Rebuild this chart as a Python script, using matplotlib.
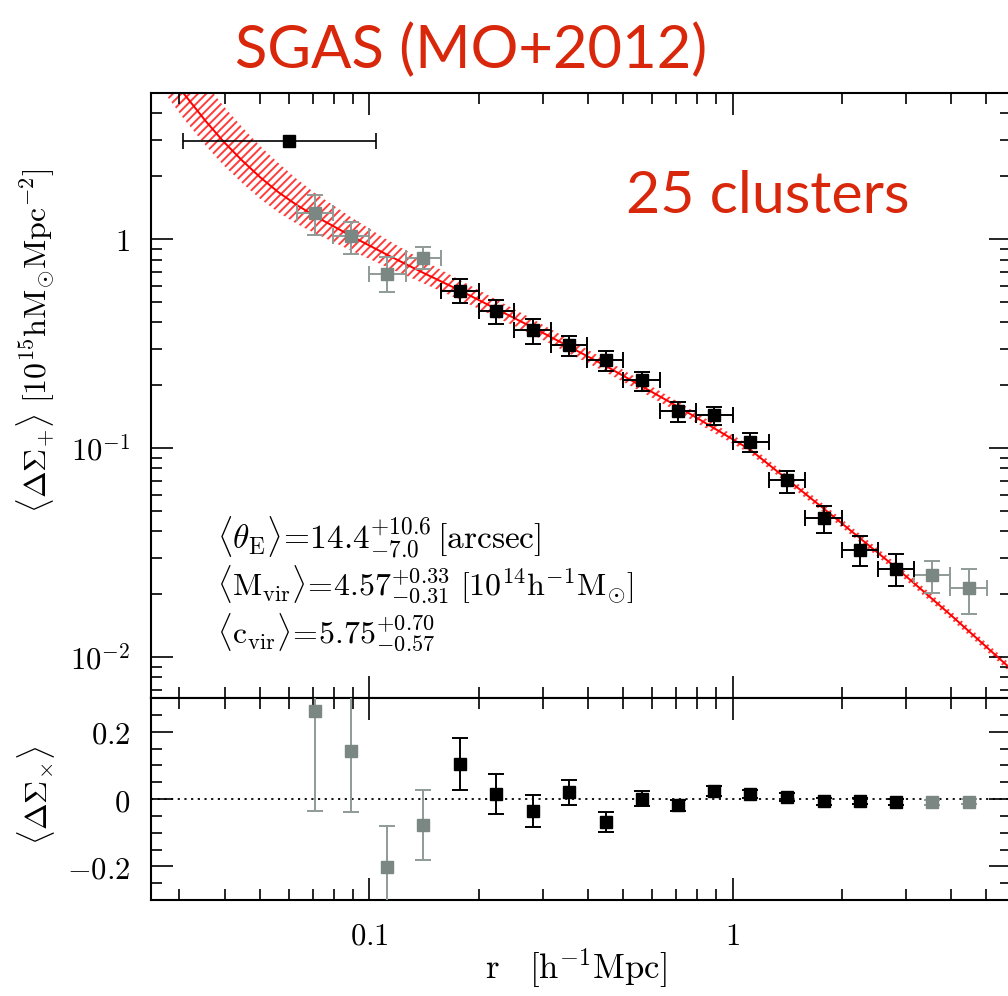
import numpy as np
import matplotlib
matplotlib.use("Agg")
import matplotlib.pyplot as plt
from matplotlib.ticker import FixedLocator, LogLocator, MultipleLocator, NullFormatter

# radial bins [h^-1 Mpc]
r_edges = [0.0631, 0.0794, 0.1, 0.126, 0.158, 0.2, 0.251, 0.316, 0.398, 0.501,
           0.631, 0.794, 1.0, 1.26, 1.58, 2.0, 2.51, 3.16, 3.98, 5.01]
r_mid = [0.0707, 0.089, 0.112, 0.141, 0.178, 0.224, 0.282, 0.355, 0.447, 0.562,
         0.708, 0.891, 1.12, 1.41, 1.78, 2.24, 2.82, 3.55, 4.47]
in_fit = [False, False, False, False, True, True, True, True, True, True,
          True, True, True, True, True, True, True, False, False]

# tangential shear profile
dsig_t = [1.34, 1.037, 0.680, 0.811, 0.568, 0.455, 0.368, 0.312, 0.265, 0.211,
          0.150, 0.144, 0.107, 0.0705, 0.0462, 0.0326, 0.0264, 0.0248, 0.0214]
dsig_t_hi = [1.63, 1.21, 0.823, 0.916, 0.646, 0.512, 0.414, 0.344, 0.293, 0.2325,
             0.167, 0.158, 0.118, 0.078, 0.053, 0.0382, 0.0311, 0.0289, 0.0264]
dsig_t_lo = [1.05, 0.85, 0.561, 0.719, 0.497, 0.392, 0.316, 0.276, 0.235, 0.1874,
             0.133, 0.129, 0.0963, 0.0613, 0.0392, 0.0274, 0.0218, 0.0202, 0.0161]

# cross shear profile
dsig_x = [0.26, 0.143, -0.2006, -0.077, 0.1037, 0.0148, -0.0347, 0.0196, -0.068, 0.001,
          -0.019, 0.0237, 0.0148, 0.006, -0.007, -0.005, -0.009, -0.01, -0.008]
dsig_x_err = [0.297, 0.182, 0.12, 0.105, 0.077, 0.06, 0.048, 0.036, 0.029, 0.023,
              0.017, 0.015, 0.013, 0.011, 0.010, 0.009, 0.008, 0.008, 0.007]

# Einstein-radius constraint
ein_r, ein_r_lo, ein_r_hi, ein_y = 0.0601, 0.0307, 0.1043, 2.94

# best-fit NFW model and its band
r_model = [0.0265, 0.0282, 0.0308, 0.0355, 0.0398, 0.0447, 0.0501, 0.0562, 0.0631,
           0.0708, 0.0891, 0.112, 0.141, 0.178, 0.282, 0.447, 0.708, 1.12, 1.78,
           2.82, 3.98, 5.89]
model = [7.2, 6.17, 5.00, 3.67, 2.92, 2.38, 1.98, 1.68, 1.46,
         1.294, 1.037, 0.843, 0.690, 0.568, 0.378, 0.248, 0.158, 0.0982, 0.0515,
         0.0268, 0.01596, 0.00867]
model_hi = [11.4, 9.66, 7.74, 5.55, 4.32, 3.44, 2.79, 2.32, 1.945,
            1.667, 1.276, 0.995, 0.792, 0.637, 0.415, 0.2655, 0.167, 0.1028, 0.0540,
            0.0281, 0.0167, 0.00908]
model_lo = [5.40, 4.66, 3.79, 2.80, 2.25, 1.855, 1.56, 1.344, 1.186,
            1.069, 0.883, 0.735, 0.615, 0.512, 0.349, 0.2312, 0.149, 0.0938, 0.0492,
            0.0256, 0.01524, 0.00828]

red = "#d8270b"
gray_c = "#7b8783"
gray_e = "#8f9a96"

plt.rcParams["mathtext.fontset"] = "cm"
plt.rcParams["font.family"] = ["DejaVu Serif"]
plt.rcParams["hatch.linewidth"] = 1.4

W, H = 1008, 996
fig = plt.figure(figsize=(W / 100, H / 100), dpi=100)
ax = fig.add_axes([151 / W, 1 - 698 / H, (1011 - 151) / W, (698 - 93) / H])
ax2 = fig.add_axes([151 / W, 1 - 900 / H, (1011 - 151) / W, (900 - 698) / H], sharex=ax)

r_mid_a = np.array(r_mid)
edges = np.array(r_edges)
xlo = r_mid_a - edges[:-1]
xhi = edges[1:] - r_mid_a
yt = np.array(dsig_t)
ylo = yt - np.array(dsig_t_lo)
yhi = np.array(dsig_t_hi) - yt
yx = np.array(dsig_x)
yxe = np.array(dsig_x_err)
fit = np.array(in_fit)

# model band + line
ax.fill_between(r_model, model_lo, model_hi, facecolor="none", edgecolor="#ff3c3c",
                hatch="////", linewidth=0, zorder=1)
ax.plot(r_model, model, color="red", lw=1.4, zorder=2)

for sel, mc, ec in [(~fit, gray_c, gray_e), (fit, "black", "black")]:
    ax.errorbar(r_mid_a[sel], yt[sel], yerr=[ylo[sel], yhi[sel]],
                xerr=[xlo[sel], xhi[sel]], fmt="s", ms=8.5, mfc=mc, mec=mc,
                ecolor=ec, elinewidth=1.4, capsize=6, capthick=1.4, zorder=3)
    ax2.errorbar(r_mid_a[sel], yx[sel], yerr=yxe[sel], fmt="s", ms=8.5, mfc=mc, mec=mc,
                 ecolor=ec, elinewidth=1.4, capsize=6, capthick=1.4, zorder=3)

ax.errorbar([ein_r], [ein_y], xerr=[[ein_r - ein_r_lo], [ein_r_hi - ein_r]], fmt="s",
            ms=8.5, color="black", elinewidth=1.2, capsize=6, capthick=1.2, zorder=3)

ax2.axhline(0, color="black", ls=(0, (1.2, 2.5)), lw=1.3, zorder=1)

ax.set_xscale("log")
ax.set_yscale("log")
ax.set_xlim(0.02508, 5.84)
ax.set_ylim(0.00638, 5.01)
ax2.set_ylim(-0.3, 0.3)

ax.xaxis.set_major_locator(FixedLocator([0.1, 1]))
ax.xaxis.set_minor_locator(LogLocator(base=10, subs=np.arange(2, 10)))
ax.xaxis.set_minor_formatter(NullFormatter())
ax.yaxis.set_major_locator(FixedLocator([0.01, 0.1, 1]))
ax.yaxis.set_minor_locator(LogLocator(base=10, subs=np.arange(2, 10)))
ax.yaxis.set_minor_formatter(NullFormatter())
ax.set_yticklabels([r"$10^{-2}$", r"$10^{-1}$", r"$1$"])
ax2.set_xticklabels([r"$0.1$", r"$1$"])
ax2.yaxis.set_major_locator(FixedLocator([-0.2, 0, 0.2]))
ax2.yaxis.set_minor_locator(MultipleLocator(0.05))
ax2.set_yticklabels([r"$-0.2$", r"$0$", r"$0.2$"])

for a in (ax, ax2):
    a.tick_params(which="both", direction="in", top=True, right=True, width=1.2,
                  labelsize=22, pad=15)
    a.tick_params(which="major", length=16)
    a.tick_params(which="minor", length=8)
    for s in a.spines.values():
        s.set_linewidth(1.5)
ax.tick_params(labelbottom=False)

fig.text(36 / W, 1 - 341 / H,
         r"$\langle\Delta\Sigma_{+}\rangle\ [10^{15}\mathrm{hM}_{\odot}\mathrm{Mpc}^{-2}]$",
         rotation=90, ha="center", va="center", fontsize=23)
fig.text(36 / W, 1 - 795 / H, r"$\langle\Delta\Sigma_{\times}\rangle$",
         rotation=90, ha="center", va="center", fontsize=23)
fig.text(576 / W, 1 - 968 / H, r"$\mathrm{r}\ \ \ [\mathrm{h}^{-1}\mathrm{Mpc}]$",
         ha="center", va="center", fontsize=25)

fig.text(217 / W, 1 - 537 / H,
         r"$\langle\theta_{\rm E}\rangle\!=\!14.4^{+10.6}_{-7.0}\,[\mathrm{arcsec}]$",
         ha="left", va="center", fontsize=24)
fig.text(217 / W, 1 - 585 / H,
         r"$\langle\mathrm{M_{vir}}\rangle\!=\!4.57^{+0.33}_{-0.31}\ [10^{14}\mathrm{h}^{-1}\mathrm{M}_{\odot}]$",
         ha="left", va="center", fontsize=23)
fig.text(217 / W, 1 - 633 / H,
         r"$\langle\mathrm{c_{vir}}\rangle\!=\!5.75^{+0.70}_{-0.57}$",
         ha="left", va="center", fontsize=23)

fig.text(471 / W, 1 - 68 / H, "SGAS (MO+2012)", color=red, family="Lato",
         fontsize=43, ha="center", va="baseline")
fig.text(626 / W, 1 - 213 / H, "25 clusters", color=red, family="Lato",
         fontsize=42.5, ha="left", va="baseline")

fig.savefig("out.png", dpi=100)
